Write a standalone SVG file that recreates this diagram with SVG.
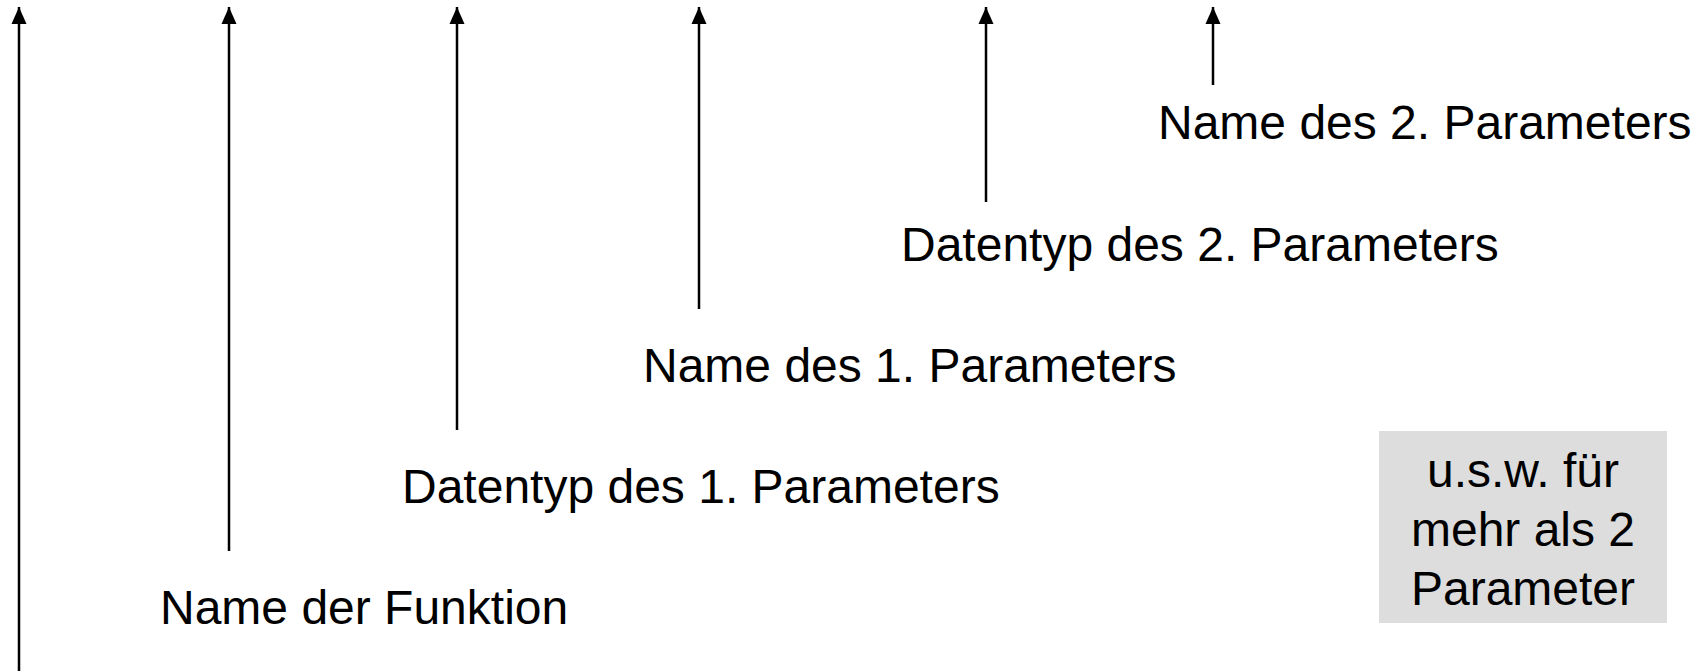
<svg xmlns="http://www.w3.org/2000/svg" width="1705" height="671" viewBox="0 0 1705 671">
<style>
  .lbl { font-family: "Liberation Sans", Arial, sans-serif; font-size: 48px; fill: #000; }
  .conn { stroke: #000; stroke-width: 2.5; fill: none; marker-end: url(#ah); }
</style>
<defs>
  <marker id="ah" markerUnits="userSpaceOnUse" markerWidth="18" markerHeight="16" refX="17" refY="8" orient="auto" viewBox="0 0 18 16">
    <polygon points="17,8 0,0.5 0,15.5" fill="#000"/>
  </marker>
</defs>
<rect width="1705" height="671" fill="#fff"/>
<g id="connectors">
  <line class="conn" x1="19" y1="671" x2="19" y2="7"/>
  <line class="conn" x1="229" y1="551" x2="229" y2="7"/>
  <line class="conn" x1="457" y1="430" x2="457" y2="7"/>
  <line class="conn" x1="699" y1="309" x2="699" y2="7"/>
  <line class="conn" x1="986" y1="202" x2="986" y2="7"/>
  <line class="conn" x1="1213" y1="85" x2="1213" y2="7"/>
</g>
<g id="name2"><text class="lbl" x="1158" y="139">Name des 2. Parameters</text></g>
<g id="typ2"><text class="lbl" x="901" y="261">Datentyp des 2. Parameters</text></g>
<g id="name1"><text class="lbl" x="643" y="382">Name des 1. Parameters</text></g>
<g id="typ1"><text class="lbl" x="402" y="503">Datentyp des 1. Parameters</text></g>
<g id="funktion"><text class="lbl" x="160" y="624">Name der Funktion</text></g>
<g id="usw">
  <rect x="1379" y="431" width="288" height="192" fill="#dddddd"/>
  <text class="lbl" text-anchor="middle" x="1523" y="487">u.s.w. für</text>
  <text class="lbl" text-anchor="middle" x="1523" y="546">mehr als 2</text>
  <text class="lbl" text-anchor="middle" x="1523" y="605">Parameter</text>
</g>
</svg>
